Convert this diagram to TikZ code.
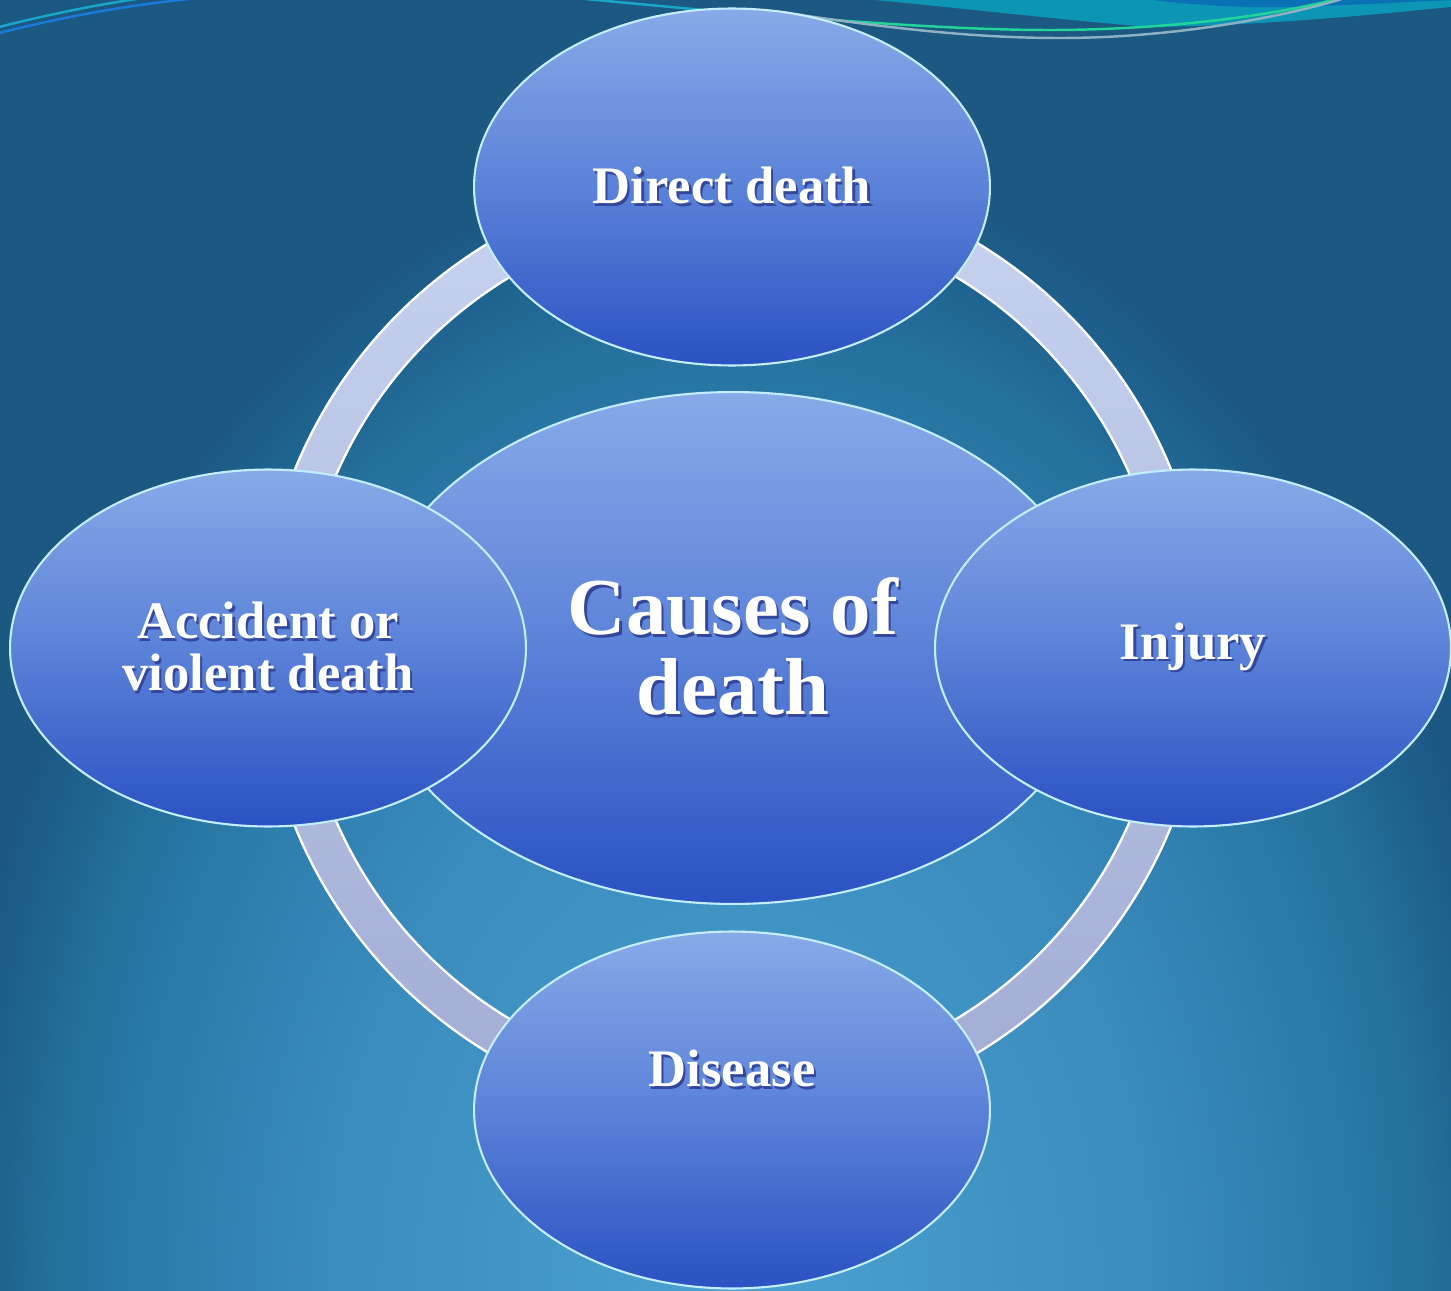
\documentclass[tikz,border=0pt]{standalone}
\usepackage{fontspec}
\setmainfont{Liberation Serif}
\usetikzlibrary{shapes.geometric}

\definecolor{bgDark}{HTML}{1B5882}
\definecolor{bgEdge}{HTML}{1F6490}
\definecolor{bgDeep}{HTML}{25719E}
\definecolor{bgMid}{HTML}{2E7FAE}
\definecolor{bgSoft}{HTML}{3A8CBD}
\definecolor{bgLight}{HTML}{4BA3D1}
\definecolor{bubbleTop}{HTML}{88AAE8}
\definecolor{bubbleMid}{HTML}{5A82D8}
\definecolor{bubbleLow}{HTML}{2A52C2}
\definecolor{bubbleRim}{HTML}{C4EEFF}
\definecolor{ringTop}{HTML}{C8D2F0}
\definecolor{ringLow}{HTML}{A2ACD4}
\definecolor{txtShade}{HTML}{34479A}
\definecolor{waveTeal}{HTML}{0D95B5}
\definecolor{waveBlue}{HTML}{0A72B4}
\definecolor{waveCyan}{HTML}{19A6C8}
\definecolor{waveRoyal}{HTML}{1A7AD8}
\definecolor{waveGreen}{HTML}{22D49A}
\definecolor{waveGrey}{HTML}{8FB2C2}

\pgfdeclareradialshading{backglow}{\pgfpointorigin}{%
  color(0bp)=(bgLight); color(12.8bp)=(bgSoft); color(17.5bp)=(bgMid);
  color(21.2bp)=(bgDeep); color(23.1bp)=(bgEdge); color(25bp)=(bgDark);
  color(50bp)=(bgDark)}

% text with a small drop shadow
\newcommand{\shtxt}[1]{\rlap{\hspace{1.3pt}\raisebox{-1.3pt}{\textcolor{txtShade}{#1}}}#1}

\begin{document}
\begin{tikzpicture}[x=0.02cm, y=-0.02cm,
    caption/.style={text=white, align=center, font=\fontsize{30}{29.5}\selectfont\bfseries},
    bubble/.style={ellipse, draw=bubbleRim, line width=1.2pt, top color=bubbleTop,
                   bottom color=bubbleLow, middle color=bubbleMid, minimum width=10.32cm,
                   minimum height=7.14cm, inner sep=0pt, caption},
    hub/.style={bubble, minimum width=14.6cm, minimum height=10.24cm,
                font=\fontsize{46}{45.5}\selectfont\bfseries},
    ringedge/.style={draw=white, line width=1.3pt},
    wave/.style={line width=1.4pt}
]
    \useasboundingbox (0,0) rectangle (1451,1291);

    % === Background ===
    \begin{scope}
        \clip (0,0) rectangle (1451,1291);
        \fill[bgDark] (0,0) rectangle (1451,1291);
        \shade[shading=backglow] (740,1300) ellipse [x radius=16cm, y radius=23cm];

        % swoosh at the top edge
        \fill[waveTeal] (870,-5) -- (875,0) .. controls (980,10) and (1080,22) .. (1153,27)
            .. controls (1280,25) and (1400,12) .. (1460,6) -- (1460,-5) -- cycle;
        \fill[waveBlue] (1150,-5) -- (1153,0) .. controls (1200,6) and (1260,9) .. (1320,6)
            .. controls (1380,4) and (1420,1) .. (1460,0) -- (1460,-5) -- cycle;
        \draw[wave, waveCyan] (-5,28) .. controls (50,14) and (100,4) .. (150,-3);
        \draw[wave, waveRoyal] (-5,34) .. controls (70,15) and (140,3) .. (210,-3);
        \draw[wave, waveCyan] (575,-2) .. controls (650,5) and (740,14) .. (821,19);
        \draw[wave, waveGreen] (821,19) .. controls (900,25) and (980,30) .. (1049,30)
            .. controls (1180,30) and (1290,12) .. (1340,-2);
        \draw[wave, waveGrey] (780,12) .. controls (900,30) and (980,38) .. (1060,38)
            .. controls (1180,38) and (1290,15) .. (1345,-2);
    \end{scope}

    % === Ring ===
    \coordinate (centre) at (733,648);
    \shade[top color=ringTop, bottom color=ringLow, even odd rule]
        (centre) circle [radius=9.48cm] (centre) circle [radius=8.64cm];
    \draw[ringedge] (centre) circle [radius=9.46cm];
    \draw[ringedge] (centre) circle [radius=8.66cm];

    % === Bubbles ===
    \node[hub] (causes) at (centre) {\shtxt{Causes of}\\\shtxt{death}};

    \node[bubble] (direct) at (732,187) {\shtxt{Direct death}};
    \node[bubble] (accident) at (268,648) {\shtxt{Accident or}\\\shtxt{violent death}};
    \node[bubble] (injury) at (1193,648) {\shtxt{Injury}};
    \node[bubble, label={[caption, yshift=0.8cm]center:\shtxt{Disease}}] (disease) at (732,1110) {};

\end{tikzpicture}
\end{document}
